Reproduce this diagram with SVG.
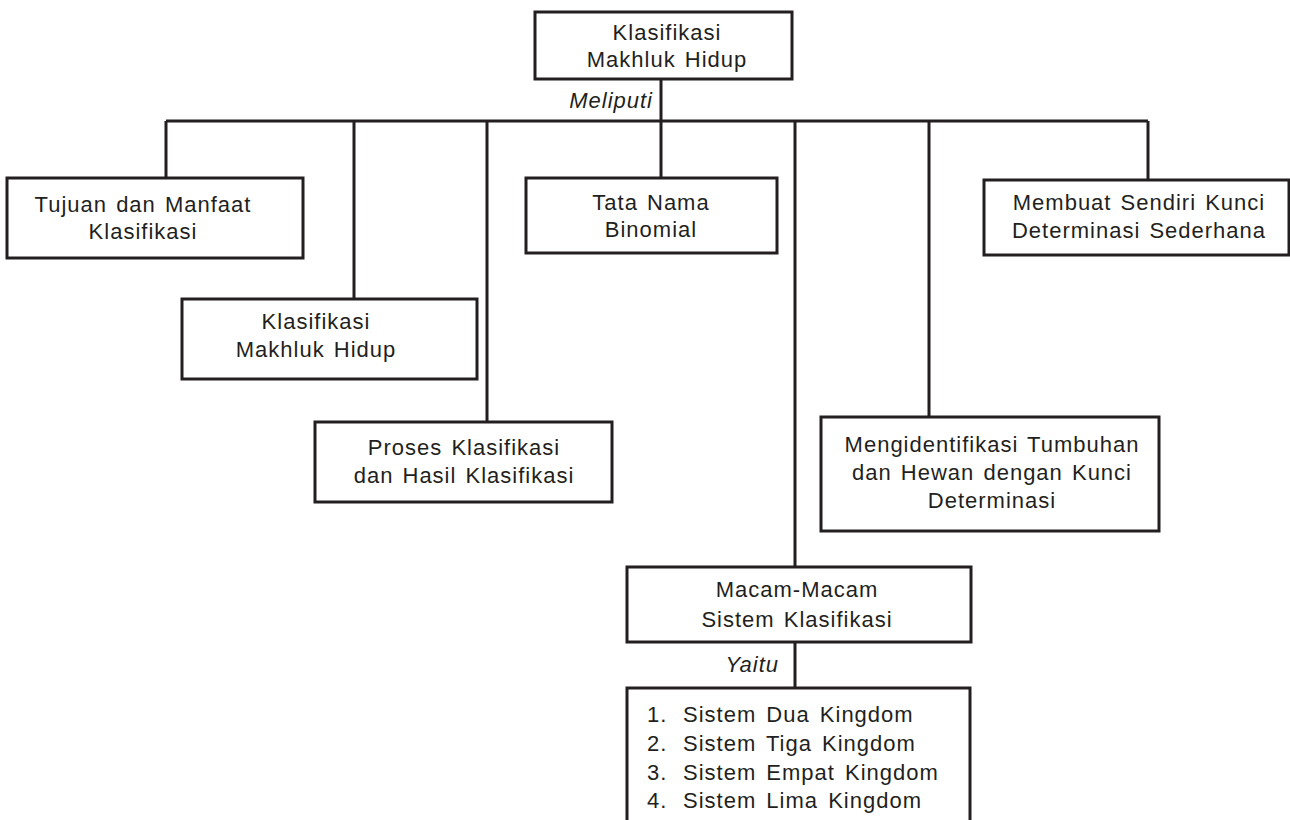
<svg xmlns="http://www.w3.org/2000/svg" width="1290" height="820" viewBox="0 0 1290 820">
<style>
.box{fill:#fff;stroke:#231f20;stroke-width:3}
.ln{stroke:#231f20;stroke-width:3;fill:none}
.t{font-family:"Liberation Sans",Arial,sans-serif;font-size:22px;letter-spacing:1px;word-spacing:2px;fill:#231f20;text-anchor:middle}
.l{font-family:"Liberation Sans",Arial,sans-serif;font-size:22px;letter-spacing:1px;word-spacing:3px;fill:#231f20}
.i{font-family:"Liberation Sans",Arial,sans-serif;font-size:22px;letter-spacing:1px;font-style:italic;fill:#231f20;text-anchor:end}
</style>
<rect width="1290" height="820" fill="#fff"/>
<g id="connectors">
<path class="ln" d="M661 79V121M166 121H1148M166 121V178M354 121V299M487 121V422M661 121V178M795 121V567M929 121V417M1148 121V180M795 642V688"/>
<text class="i" x="653" y="108">Meliputi</text>
<text class="i" x="779" y="672">Yaitu</text>
</g>
<g id="root">
<rect class="box" x="535" y="12" width="257" height="67"/>
<text class="t" x="667" y="40">Klasifikasi</text>
<text class="t" x="667" y="67">Makhluk Hidup</text>
</g>
<g id="tujuan">
<rect class="box" x="7" y="178" width="296" height="80"/>
<text class="t" x="143" y="212">Tujuan dan Manfaat</text>
<text class="t" x="143" y="239">Klasifikasi</text>
</g>
<g id="klasifikasi">
<rect class="box" x="182" y="299" width="295" height="80"/>
<text class="t" x="316" y="329">Klasifikasi</text>
<text class="t" x="316" y="357">Makhluk Hidup</text>
</g>
<g id="proses">
<rect class="box" x="315" y="422" width="297" height="80"/>
<text class="t" x="464" y="455">Proses Klasifikasi</text>
<text class="t" x="464" y="483">dan Hasil Klasifikasi</text>
</g>
<g id="tatanama">
<rect class="box" x="526" y="178" width="251" height="75"/>
<text class="t" x="651" y="210">Tata Nama</text>
<text class="t" x="651" y="237">Binomial</text>
</g>
<g id="membuat">
<rect class="box" x="984" y="180" width="305" height="75"/>
<text class="t" x="1139" y="210">Membuat Sendiri Kunci</text>
<text class="t" x="1139" y="238">Determinasi Sederhana</text>
</g>
<g id="mengidentifikasi">
<rect class="box" x="821" y="417" width="338" height="114"/>
<text class="t" x="992" y="452">Mengidentifikasi Tumbuhan</text>
<text class="t" x="992" y="480">dan Hewan dengan Kunci</text>
<text class="t" x="992" y="508">Determinasi</text>
</g>
<g id="macam">
<rect class="box" x="627" y="567" width="344" height="75"/>
<text class="t" x="797" y="597">Macam-Macam</text>
<text class="t" x="797" y="627">Sistem Klasifikasi</text>
</g>
<g id="list">
<rect class="box" x="627" y="688" width="343" height="150"/>
<text class="l" x="647" y="722">1.</text><text class="l" x="683" y="722">Sistem Dua Kingdom</text>
<text class="l" x="647" y="751">2.</text><text class="l" x="683" y="751">Sistem Tiga Kingdom</text>
<text class="l" x="647" y="780">3.</text><text class="l" x="683" y="780">Sistem Empat Kingdom</text>
<text class="l" x="647" y="808">4.</text><text class="l" x="683" y="808">Sistem Lima Kingdom</text>
</g>
</svg>
